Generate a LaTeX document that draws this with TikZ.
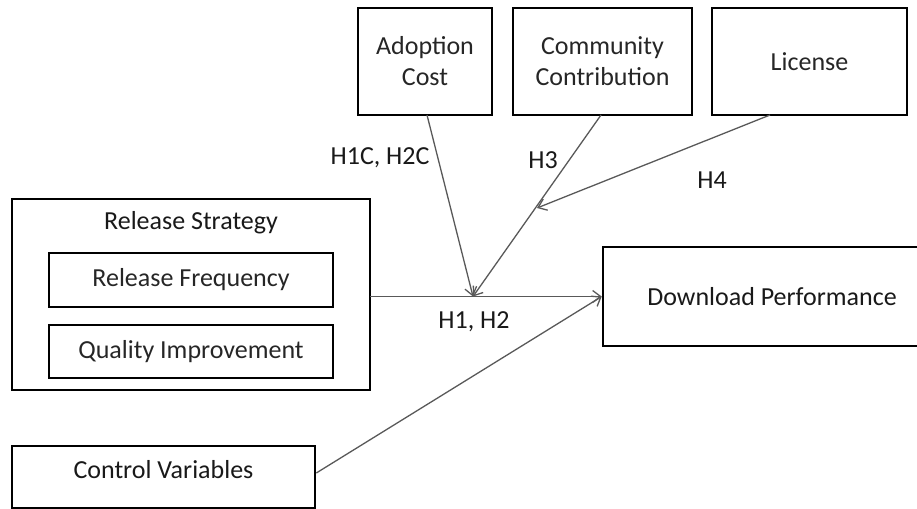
\documentclass[tikz,border=0pt]{standalone}
\usepackage{fontspec}
\setmainfont{Carlito}
\usetikzlibrary{arrows.meta,positioning}

\tikzset{
  box/.style={draw=black, line width=2.6pt, inner sep=0pt, text=black!85, font=\fontsize{26}{31}\selectfont},
  lbl/.style={text=black!90, font=\fontsize{26}{31}\selectfont},
  link/.style={draw=black!65, line width=1.3pt, -{Straight Barb[length=8pt,width=12pt,line width=1.3pt]}}
}

\begin{document}
\begin{tikzpicture}[x=1pt,y=-1pt]
\useasboundingbox (0,0) rectangle (917,508);

% moderators on top
\node[box, minimum width=134pt, minimum height=107pt, align=center] (cost) at (425,61.5) {Adoption\\Cost};
\node[box, minimum width=179pt, minimum height=107pt, align=center] (comm) at (602.5,61.5) {Community\\Contribution};
\node[box, minimum width=195pt, minimum height=107pt] (lic) at (809.5,61.5) {License};

% release strategy
\node[box, minimum width=358pt, minimum height=191pt] (rs) at (191,294.5) {};
\node[lbl] (rslbl) at (191,223) {Release Strategy};
\node[box, minimum width=284pt, minimum height=54pt] (freq) at (191,280) {Release Frequency};
\node[box, minimum width=284pt, minimum height=53pt] (qual) at (191,351.5) {Quality Improvement};

\node[box, minimum width=303pt, minimum height=62pt] (ctrl) at (163.5,477) {};
\node[lbl] (ctrllbl) at (163.5,470) {Control Variables};

\node[box, minimum width=322pt, minimum height=99pt] (dp) at (764,296.5) {};
\node[lbl] (dplbl) at (772,297) {Download Performance};

% connectors
\coordinate (rsout) at (370,296.5);
\coordinate (mid) at (473,296.5);
\coordinate (cc) at (537,208);
\coordinate (costout) at (427,115);
\coordinate (commout) at (601,115);
\coordinate (licout) at (770,115);

\draw[link] (rsout) -- (dp.west);
\draw[link] (costout) -- (mid);
\draw[link] (commout) -- (mid);
\draw[link] (licout) -- (cc);
\draw[link] ([yshift=4pt]ctrl.east) -- (dp.west);

\node[lbl] (h12c) at (380,158) {H1C, H2C};
\node[lbl] (h3) at (543,160) {H3};
\node[lbl] (h4) at (712,180) {H4};
\node[lbl] (h12) at (474,322) {H1, H2};
\end{tikzpicture}
\end{document}
